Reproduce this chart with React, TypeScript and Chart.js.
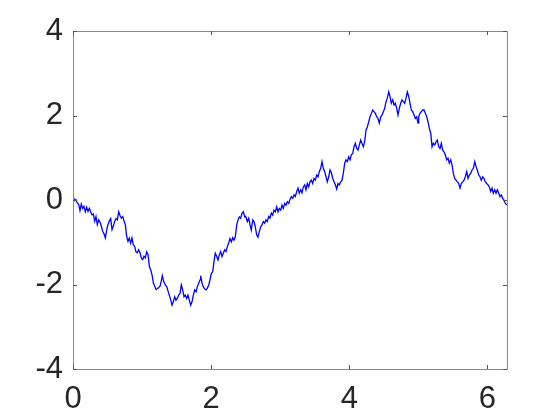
import React, { useEffect, useRef } from "react";
import { Chart, registerables } from "chart.js";

Chart.register(...registerables);

const xValues: number[] = [
  0.000, 0.025, 0.043, 0.062, 0.083, 0.101, 0.120, 0.140, 0.159, 0.178, 0.198, 0.217, 0.236, 0.256, 0.275,
  0.294, 0.314, 0.333, 0.352, 0.372, 0.391, 0.410, 0.430, 0.449, 0.468, 0.488, 0.507, 0.526, 0.546, 0.565,
  0.583, 0.604, 0.623, 0.641, 0.662, 0.680, 0.699, 0.720, 0.738, 0.757, 0.777, 0.796, 0.815, 0.835, 0.854,
  0.873, 0.893, 0.912, 0.931, 0.951, 0.970, 0.989, 1.009, 1.028, 1.047, 1.067, 1.086, 1.105, 1.125, 1.144,
  1.163, 1.183, 1.202, 1.220, 1.241, 1.260, 1.278,
  1.293, 1.313, 1.336, 1.357, 1.375, 1.394, 1.415, 1.433, 1.452, 1.472, 1.491, 1.510, 1.530, 1.549, 1.568,
  1.588, 1.607, 1.626, 1.646, 1.665, 1.684, 1.704, 1.723, 1.742, 1.762, 1.781, 1.800, 1.820, 1.839, 1.849,
  1.868, 1.886, 1.907, 1.926, 1.944, 1.965, 1.983, 2.002, 2.023, 2.041, 2.060, 2.081, 2.099, 2.118, 2.138,
  2.157, 2.176, 2.196, 2.215, 2.234, 2.254, 2.273, 2.292, 2.312, 2.331, 2.350, 2.370, 2.389, 2.408, 2.428,
  2.447, 2.466, 2.486,
  2.500, 2.524, 2.544, 2.563, 2.581, 2.602, 2.621, 2.639, 2.660, 2.678, 2.697, 2.718, 2.736, 2.755, 2.775,
  2.794, 2.813, 2.833, 2.852, 2.871, 2.891, 2.910, 2.929, 2.949, 2.968, 2.987, 3.007, 3.026, 3.045, 3.065,
  3.084, 3.103, 3.123, 3.142, 3.161, 3.181, 3.200, 3.218, 3.239, 3.258, 3.276, 3.297, 3.315, 3.334, 3.355,
  3.373, 3.392, 3.412, 3.431, 3.450, 3.470, 3.489, 3.508, 3.528, 3.547, 3.566, 3.586, 3.605, 3.624, 3.644,
  3.663, 3.682, 3.702, 3.721,
  3.740, 3.760, 3.779, 3.798, 3.818, 3.837, 3.856, 3.876, 3.895, 3.913, 3.934, 3.952, 3.971, 3.992, 4.010,
  4.029, 4.050, 4.068, 4.087, 4.107, 4.126, 4.145, 4.165, 4.184, 4.203, 4.223, 4.242, 4.261, 4.281, 4.300,
  4.319, 4.339, 4.358, 4.377, 4.397, 4.416, 4.435, 4.455, 4.474, 4.493, 4.513, 4.532, 4.550, 4.571, 4.590,
  4.608, 4.629, 4.647, 4.666, 4.687, 4.705, 4.724, 4.744, 4.763, 4.782, 4.802, 4.821, 4.840, 4.860, 4.879,
  4.898, 4.918, 4.937, 4.956, 4.976, 4.995,
  5.005, 5.024, 5.043, 5.063, 5.082, 5.101, 5.121, 5.140, 5.158, 5.179, 5.198, 5.216, 5.237, 5.256, 5.274,
  5.295, 5.313, 5.332, 5.352, 5.371, 5.390, 5.411, 5.429, 5.448, 5.468, 5.487, 5.506, 5.526, 5.545, 5.564,
  5.584, 5.603, 5.622, 5.642, 5.661, 5.680, 5.700, 5.719, 5.738, 5.758, 5.777, 5.796, 5.816, 5.835, 5.853,
  5.874, 5.893, 5.911, 5.932, 5.950, 5.969, 5.990, 6.008, 6.027, 6.047, 6.066, 6.085, 6.105, 6.124, 6.143,
  6.163, 6.182, 6.201, 6.221, 6.240, 6.259, 6.283,
];

const yValues: number[] = [
  0.087, -0.016, 0.008, -0.071, -0.11, -0.25, -0.095, -0.20, -0.15, -0.28, -0.17, -0.27, -0.20, -0.28, -0.35,
  -0.33, -0.50, -0.39, -0.58, -0.47, -0.52, -0.62, -0.74, -0.80, -0.90, -0.70, -0.58, -0.50, -0.44, -0.70,
  -0.62, -0.50, -0.44, -0.47, -0.28, -0.36, -0.43, -0.39, -0.49, -0.58, -0.86, -0.98, -0.90, -1.02, -0.90,
  -1.06, -1.10, -1.23, -1.25, -1.18, -1.25, -1.37, -1.41, -1.33, -1.37, -1.23, -1.29, -1.57, -1.65, -1.77,
  -1.96, -2.04, -2.12, -2.10, -2.07, -2.04, -1.92,
  -1.79, -1.93, -2.01, -2.05, -2.15, -2.25, -2.37, -2.49, -2.41, -2.29, -2.37, -2.33, -2.25, -2.21, -2.01,
  -2.13, -2.29, -2.25, -2.33, -2.25, -2.37, -2.49, -2.41, -2.25, -2.13, -2.17, -2.05, -1.97, -1.89, -1.79,
  -1.97, -2.05, -2.11, -2.13, -2.09, -2.01, -1.89, -1.74, -1.70, -1.46, -1.26, -1.34, -1.42, -1.30, -1.22,
  -1.34, -1.26, -1.18, -1.22, -1.11, -1.02, -0.91, -0.99, -0.89, -0.95, -0.87, -0.59, -0.47, -0.40, -0.43,
  -0.31, -0.28, -0.40,
  -0.39, -0.51, -0.43, -0.59, -0.71, -0.47, -0.51, -0.63, -0.83, -0.88, -0.75, -0.63, -0.59, -0.51, -0.55,
  -0.47, -0.51, -0.39, -0.43, -0.31, -0.36, -0.24, -0.28, -0.16, -0.28, -0.20, -0.24, -0.12, -0.20, -0.08,
  -0.12, -0.04, -0.08, 0.02, 0.08, 0.04, 0.12, 0.08, 0.20, 0.28, 0.16, 0.24, 0.17, 0.31, 0.36,
  0.24, 0.39, 0.31, 0.43, 0.47, 0.39, 0.51, 0.47, 0.59, 0.55, 0.67, 0.75, 0.91, 0.75, 0.67,
  0.55, 0.43, 0.55, 0.71,
  0.65, 0.51, 0.43, 0.36, 0.26, 0.39, 0.36, 0.43, 0.47, 0.63, 0.87, 0.95, 0.91, 1.02, 0.95,
  1.07, 1.10, 1.26, 1.34, 1.22, 1.18, 1.30, 1.42, 1.34, 1.26, 1.38, 1.66, 1.73, 1.85, 1.97,
  2.05, 2.13, 2.09, 2.05, 1.97, 1.93, 1.82, 1.97, 2.01, 2.09, 2.17, 2.33, 2.41, 2.56, 2.45,
  2.29, 2.37, 2.25, 2.29, 2.17, 2.01, 2.17, 2.29, 2.37, 2.33, 2.29, 2.41, 2.56, 2.45, 2.29,
  2.13, 2.09, 2.01, 1.93, 1.97, 1.82,
  1.97, 2.05, 2.09, 2.13, 2.13, 2.05, 1.97, 1.85, 1.70, 1.58, 1.26, 1.34, 1.30, 1.38, 1.42,
  1.26, 1.22, 1.34, 1.18, 1.14, 1.07, 0.95, 0.99, 0.87, 0.95, 0.83, 0.63, 0.51, 0.47, 0.43,
  0.39, 0.28, 0.39, 0.43, 0.47, 0.55, 0.67, 0.51, 0.59, 0.63, 0.71, 0.75, 0.91, 0.79, 0.71,
  0.59, 0.55, 0.47, 0.55, 0.51, 0.43, 0.39, 0.36, 0.31, 0.20, 0.28, 0.16, 0.24, 0.16, 0.24,
  0.16, 0.08, 0.12, 0.04, 0.00, -0.08, -0.12,
];

const xTicks: number[] = [0, 2, 4, 6];
const yTicks: number[] = [-4, -2, 0, 2, 4];
const xMin = 0;
const xMax = 2 * Math.PI;
const yMin = -4;
const yMax = 4;

const AXIS_COLOR = "#8a8a8a";
const TEXT_COLOR = "#262626";
const FONT = { family: "'Liberation Sans', Arial, sans-serif", size: 31 };

const boxPlugin = {
  id: "matlabBox",
  afterDraw(chart: any) {
    const { ctx, chartArea } = chart;
    const { left, right, top, bottom } = chartArea;
    const xs = chart.scales.x;
    const ys = chart.scales.y;
    ctx.save();
    ctx.strokeStyle = AXIS_COLOR;
    ctx.lineWidth = 1;
    ctx.beginPath();
    ctx.rect(Math.round(left) + 0.5, Math.round(top) + 0.5, Math.round(right - left), Math.round(bottom - top));
    ctx.stroke();
    ctx.strokeStyle = "#555555";
    const tl = 4;
    ctx.beginPath();
    for (const v of xTicks) {
      const px = Math.round(xs.getPixelForValue(v)) + 0.5;
      ctx.moveTo(px, bottom);
      ctx.lineTo(px, bottom - tl);
      ctx.moveTo(px, top);
      ctx.lineTo(px, top + tl);
    }
    for (const v of yTicks) {
      const py = Math.round(ys.getPixelForValue(v)) + 0.5;
      ctx.moveTo(left, py);
      ctx.lineTo(left + tl, py);
      ctx.moveTo(right, py);
      ctx.lineTo(right - tl, py);
    }
    ctx.stroke();
    ctx.restore();
  },
};

export default function App() {
  const ref = useRef<HTMLCanvasElement | null>(null);
  useEffect(() => {
    if (!ref.current) return;
    const points = xValues.map((x, i) => ({ x, y: yValues[i] }));
    const chart = new Chart(ref.current, {
      type: "line",
      data: {
        datasets: [
          {
            data: points,
            borderColor: "#0000ff",
            borderWidth: 1.3,
            pointRadius: 0,
            tension: 0,
            fill: false,
          },
        ],
      },
      options: {
        animation: false,
        responsive: false,
        layout: { padding: { top: 31, right: 53, left: 0, bottom: 0 } },
        plugins: { legend: { display: false }, tooltip: { enabled: false } },
        scales: {
          x: {
            type: "linear",
            min: xMin,
            max: xMax,
            grid: { display: false, drawTicks: false },
            border: { display: false },
            afterBuildTicks: (scale: any) => {
              scale.ticks = xTicks.map((v) => ({ value: v }));
            },
            afterFit: (scale: any) => {
              scale.height = 51;
            },
            ticks: {
              color: TEXT_COLOR,
              font: FONT,
              padding: 12,
              maxRotation: 0,
              autoSkip: false,
            },
          },
          y: {
            type: "linear",
            min: yMin,
            max: yMax,
            grid: { display: false, drawTicks: false },
            border: { display: false },
            afterBuildTicks: (scale: any) => {
              scale.ticks = yTicks.map((v) => ({ value: v }));
            },
            afterFit: (scale: any) => {
              scale.width = 73;
            },
            ticks: {
              color: TEXT_COLOR,
              font: FONT,
              padding: 10,
              autoSkip: false,
            },
          },
        },
      },
      plugins: [boxPlugin],
    });
    return () => chart.destroy();
  }, []);
  return (
    <div style={{ position: "fixed", left: 0, top: 0, width: 560, height: 420, background: "#fff" }}>
      <canvas ref={ref} width={560} height={420} />
    </div>
  );
}
